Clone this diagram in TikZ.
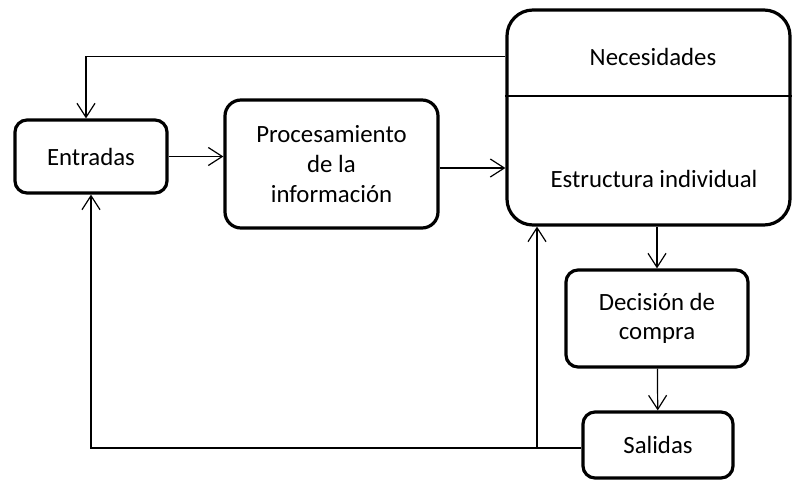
\documentclass[tikz,border=0pt]{standalone}
\usepackage{fontspec}
\setmainfont{Carlito}
\usetikzlibrary{arrows.meta,positioning,calc}

\begin{document}
\begin{tikzpicture}[
    x=0.5pt, y=-0.5pt,
    box/.style={rectangle, draw, line width=1.6pt, rounded corners=6pt, align=center, inner sep=0pt, font=\fontsize{12.4}{14.8}\selectfont},
    txt/.style={font=\fontsize{12.4}{14.8}\selectfont, inner sep=0pt},
    arrow/.style={-{Straight Barb[length=7pt,width=9pt]}, line width=0.6pt}
]
\useasboundingbox (0,0) rectangle (793,483);

\node[box, minimum width=76pt, minimum height=36.5pt] (ent) at (91,156.5) {Entradas};
\node[box, rounded corners=8pt, minimum width=106.5pt, minimum height=64pt] (proc) at (331.5,164) {Procesamiento\\de la\\información};
\node[box, rounded corners=13pt, minimum width=141.5pt, minimum height=107.5pt] (big) at (648.5,117.5) {};
\node[box, minimum width=91pt, minimum height=48.5pt] (dec) at (657,318.5) {Decisión de\\compra};
\node[box, minimum width=75pt, minimum height=33pt] (sal) at (658,445) {Salidas};

% big box contents
\node[txt, anchor=base] (nec) at (653,65) {Necesidades};
\node[txt, anchor=base] (est) at (654,187) {Estructura individual};
\draw[line width=1.2pt] (big.west |- 0,96) -- (big.east |- 0,96);

% connectors
\draw[arrow] (ent) -- (ent -| proc.west);
\draw[arrow] ([yshift=-2pt]proc.east) -- ([yshift=-2pt]proc.east -| big.west);
\draw[arrow] (nec -| big.west) -| ([xshift=-2.5pt]ent.north);
\draw[arrow] (dec.north |- big.south) -- (dec.north);
\draw[arrow] (dec) -- (sal);
\coordinate (jn) at (537,448);
\draw[arrow] (sal.west |- jn) -| (ent.south);
\draw[arrow] (jn) -- (jn |- big.south);

\end{tikzpicture}
\end{document}
